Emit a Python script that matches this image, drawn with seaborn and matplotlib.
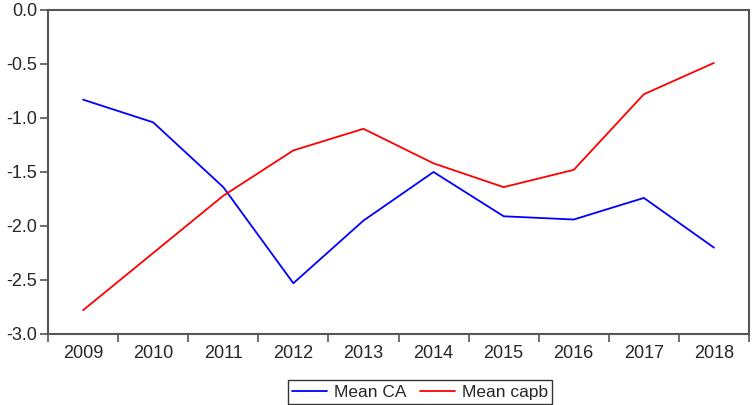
import numpy as np
import pandas as pd
import matplotlib
matplotlib.use("Agg")
import matplotlib.pyplot as plt
import seaborn as sns

years = ["2009", "2010", "2011", "2012", "2013", "2014", "2015", "2016", "2017", "2018"]
mean_ca = [-0.83, -1.04, -1.64, -2.53, -1.95, -1.50, -1.91, -1.94, -1.74, -2.20]
mean_capb = [-2.78, -2.25, -1.72, -1.30, -1.10, -1.42, -1.64, -1.48, -0.78, -0.49]

df = pd.DataFrame({
    "year": years * 2,
    "value": mean_ca + mean_capb,
    "series": ["Mean CA"] * len(years) + ["Mean capb"] * len(years),
})

sns.set_style("white")
plt.rcParams["font.family"] = ["Liberation Sans", "DejaVu Sans"]
plt.rcParams["axes.unicode_minus"] = False

fig = plt.figure(figsize=(7.54, 4.05), dpi=100)
ax = fig.add_axes([48 / 754, 1 - 334 / 405, 701 / 754, 324 / 405])

sns.lineplot(data=df, x="year", y="value", hue="series",
             palette={"Mean CA": "#0000ff", "Mean capb": "#ff0000"},
             linewidth=1.3, ax=ax, legend=False, sort=False)

axis_col = "#555555"
for s in ax.spines.values():
    s.set_color(axis_col)
    s.set_linewidth(1.5)

ax.set_xlim(-0.5, len(years) - 0.5)
ax.set_ylim(-3.0, 0.0)
ax.set_yticks(np.arange(-3.0, 0.01, 0.5))
ax.set_yticklabels([f"{v:.1f}" for v in np.arange(-3.0, 0.01, 0.5)])

# ticks sit on the category boundaries, labels in the middle
ax.set_xticks(np.arange(-0.5, len(years), 1.0))
ax.set_xticklabels([])
ax.set_xticks(np.arange(len(years)), minor=True)
ax.set_xticklabels(years, minor=True)
ax.tick_params(axis="x", which="major", direction="out", length=6, width=1.2,
               color=axis_col, bottom=True)
ax.tick_params(axis="x", which="minor", length=0, pad=8, labelsize=13)
ax.tick_params(axis="y", direction="out", length=6, width=1.2, color=axis_col,
               left=True, labelsize=13, pad=2)
ax.set_xlabel("")
ax.set_ylabel("")

handles = [plt.Line2D([], [], color="#0000ff", lw=1.3),
           plt.Line2D([], [], color="#ff0000", lw=1.3)]
leg = fig.legend(handles, ["Mean CA", "Mean capb"], loc="center",
                 bbox_to_anchor=(420 / 754, 1 - 392 / 405), ncol=2,
                 frameon=True, fancybox=False, fontsize=12.5,
                 handlelength=2.0, handletextpad=0.4, columnspacing=0.8,
                 borderpad=0.25, borderaxespad=0)
leg.get_frame().set_edgecolor("black")
leg.get_frame().set_linewidth(1.0)

fig.savefig("out.png", dpi=100)
